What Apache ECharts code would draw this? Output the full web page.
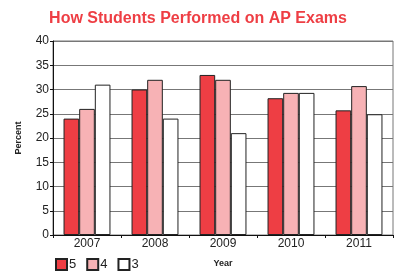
<!DOCTYPE html>
<html>
<head>
<meta charset="utf-8">
<script src="https://cdn.jsdelivr.net/npm/echarts@6/dist/echarts.min.js"></script>
<style>
  html, body { margin: 0; padding: 0; background: #fff; }
  #chart { width: 396px; height: 275px; }
</style>
</head>
<body>
<div id="chart"></div>
<script>
// 年份
const years = ['2007', '2008', '2009', '2010', '2011'];
// 各分数段的百分比
const score5 = [24, 30, 33, 28.2, 25.7];
const score4 = [26, 32, 32, 29.3, 30.7];
const score3 = [31, 24, 21, 29.3, 24.9];
const yTicks = [0, 5, 10, 15, 20, 25, 30, 35, 40];

const chart = echarts.init(document.getElementById('chart'));

const barStyle = (color) => ({
  color: color,
  borderColor: '#222',
  borderWidth: 1
});

const option = {
  animation: false,
  textStyle: { fontFamily: 'Liberation Sans, Arial, sans-serif' },
  title: {
    text: 'How Students Performed on AP Exams',
    left: 'center',
    top: 6,
    textStyle: {
      color: '#ee3e44',
      fontSize: 16,
      fontWeight: 'bold'
    }
  },
  legend: {
    data: ['5', '4', '3'],
    left: 50,
    top: 253,
    itemWidth: 11,
    itemHeight: 11,
    itemGap: 10,
    icon: 'rect',
    textStyle: { fontSize: 13, color: '#222', padding: [0, 0, 0, -3] }
  },
  grid: {
    left: 53,
    right: 3,
    top: 41,
    bottom: 40,
    show: true,
    borderColor: '#777',
    borderWidth: 1
  },
  xAxis: {
    type: 'category',
    data: years,
    name: 'Year',
    nameLocation: 'middle',
    nameGap: 24,
    nameTextStyle: { fontSize: 9, fontWeight: 'bold', color: '#222' },
    axisLine: { lineStyle: { color: '#111' } },
    axisTick: { show: true, length: 3, lineStyle: { color: '#111' } },
    axisLabel: { fontSize: 12, color: '#222', margin: 3 }
  },
  yAxis: {
    type: 'value',
    min: yTicks[0],
    max: yTicks[yTicks.length - 1],
    interval: 5,
    name: 'Percent',
    nameLocation: 'middle',
    nameGap: 30,
    nameRotate: 90,
    nameTextStyle: { fontSize: 9, fontWeight: 'bold', color: '#222' },
    axisLine: { show: true, lineStyle: { color: '#111' } },
    axisTick: { show: true, length: 3, lineStyle: { color: '#111' } },
    axisLabel: { fontSize: 12, color: '#222', margin: 4 },
    splitLine: { lineStyle: { color: '#777', width: 1 } }
  },
  series: [
    {
      name: '5',
      type: 'bar',
      barGap: '0%',
      barCategoryGap: '31%',
      itemStyle: barStyle('#ee3e44'),
      data: score5
    },
    {
      name: '4',
      type: 'bar',
      itemStyle: barStyle('#f7b2b5'),
      data: score4
    },
    {
      name: '3',
      type: 'bar',
      itemStyle: barStyle('#ffffff'),
      data: score3
    }
  ]
};

chart.setOption(option);
</script>
</body>
</html>
